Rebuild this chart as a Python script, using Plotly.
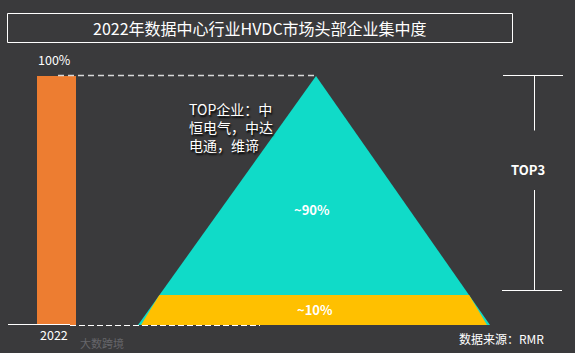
import plotly.graph_objects as go

# ---- data ----
years = ["2022"]
bar_values = [100]
bar_value_labels = ["100%"]
pyramid_labels = ["~90%", "~10%"]
pyramid_shares = [90, 10]
top_companies_text = "TOP企业：中<br>恒电气，中达<br>电通，维谛"
bracket_label = "TOP3"
title_text = "2022年数据中心行业HVDC市场头部企业集中度"
source_text = "数据来源：RMR"
watermark_text = "大数跨境"

# ---- layout constants (pixel geometry) ----
W, H = 575, 353
BASE_PX, TOP_PX = 325, 76
PX_PER_UNIT = (BASE_PX - TOP_PX) / 100.0
YMIN = -(H - BASE_PX) / PX_PER_UNIT
YMAX = BASE_PX / PX_PER_UNIT


def py(p):
    """pixel row -> y data value"""
    return (BASE_PX - p) / PX_PER_UNIT


BG = "#3a3a3c"
ORANGE = "#ed7d31"
TEAL = "#10dbc8"
YELLOW = "#ffc000"
FONT = "Noto Sans CJK SC, Microsoft YaHei, sans-serif"

bar_x, bar_w = 56.5, 39
pyr_cx, pyr_left_half, pyr_right_half = 316, 178, 174
band_top = 12  # height of bottom band in value units

fig = go.Figure()

# bar
fig.add_trace(go.Bar(x=[bar_x], y=bar_values, width=bar_w, marker_color=ORANGE,
                     marker_line_width=0, hoverinfo="skip"))

# pyramid (full triangle)
apex = bar_values[0]
tri_x = [pyr_cx - pyr_left_half, pyr_cx, pyr_cx + pyr_right_half, pyr_cx - pyr_left_half]
tri_y = [0, apex, 0, 0]
fig.add_trace(go.Scatter(x=tri_x, y=tri_y, fill="toself", fillcolor=TEAL,
                         mode="lines", line=dict(width=0), hoverinfo="skip"))

# bottom band (others)
f = band_top / apex
lx0 = pyr_cx - pyr_left_half + 3
rx0 = pyr_cx + pyr_right_half - 3
lx1 = pyr_cx - pyr_left_half * (1 - f)
rx1 = pyr_cx + pyr_right_half * (1 - f)
fig.add_trace(go.Scatter(x=[lx0, lx1, rx1, rx0, lx0], y=[0, band_top, band_top, 0, 0],
                         fill="toself", fillcolor=YELLOW, mode="lines",
                         line=dict(width=0), hoverinfo="skip"))

shapes = []
# title box
shapes.append(dict(type="rect", xref="x", yref="y", x0=7.5, x1=512.5, y0=py(13.5), y1=py(42.5),
                   line=dict(color="white", width=1)))
# top dashed guide
shapes.append(dict(type="line", xref="x", yref="y", x0=58, x1=314, y0=py(75.5), y1=py(75.5),
                   line=dict(color="#d8d8d8", width=1.3, dash="6px,4px")))
# baseline solid + dashed
shapes.append(dict(type="line", xref="x", yref="y", x0=8, x1=70, y0=py(324.5), y1=py(324.5),
                   line=dict(color="white", width=1.2)))
shapes.append(dict(type="line", xref="x", yref="y", x0=70, x1=260, y0=py(325.5), y1=py(325.5),
                   line=dict(color="white", width=1.2, dash="6px,3px")))
# TOP3 bracket
for x0, x1, y0, y1 in [(503, 563, 75.5, 75.5), (534.5, 534.5, 75.5, 130.5),
                       (534.5, 534.5, 190, 290.5), (502, 562, 290.5, 290.5)]:
    shapes.append(dict(type="line", xref="x", yref="y", x0=x0, x1=x1, y0=py(y0), y1=py(y1),
                       line=dict(color="white", width=1)))

ann = []
ann.append(dict(x=260, y=py(27.5), text=title_text, showarrow=False,
                font=dict(family=FONT, size=16, color="white")))
ann.append(dict(x=bar_x - 2, y=py(59), text=bar_value_labels[0], showarrow=False,
                font=dict(family=FONT, size=12.5, color="white")))
ann.append(dict(x=bar_x - 3, y=py(334), text=years[0], showarrow=False,
                font=dict(family=FONT, size=12.5, color="white")))
ann.append(dict(x=187, y=py(127), text=top_companies_text, showarrow=False, xanchor="left",
                align="left",
                font=dict(family=FONT, size=14, color="white", shadow="1px 2px 2px #000")))
ann.append(dict(x=312, y=py(209), text="<b>%s</b>" % pyramid_labels[0], showarrow=False,
                font=dict(family=FONT, size=13, color="white")))
ann.append(dict(x=315, y=py(309), text="<b>%s</b>" % pyramid_labels[1], showarrow=False,
                font=dict(family=FONT, size=13, color="white")))
ann.append(dict(x=528, y=py(169), text="<b>%s</b>" % bracket_label, showarrow=False,
                font=dict(family=FONT, size=13, color="white")))
ann.append(dict(x=501, y=py(338), text=source_text, showarrow=False,
                font=dict(family=FONT, size=12, color="white")))
ann.append(dict(x=102, y=py(343), text=watermark_text, showarrow=False,
                font=dict(family=FONT, size=11, color="#66666a")))

fig.update_layout(
    width=W, height=H, margin=dict(l=0, r=0, t=0, b=0),
    paper_bgcolor=BG, plot_bgcolor=BG, showlegend=False,
    xaxis=dict(range=[0, W], visible=False, fixedrange=True),
    yaxis=dict(range=[YMIN, YMAX], visible=False, fixedrange=True),
    shapes=shapes, annotations=ann,
)

fig.write_html("out.html", config={"displayModeBar": False})
